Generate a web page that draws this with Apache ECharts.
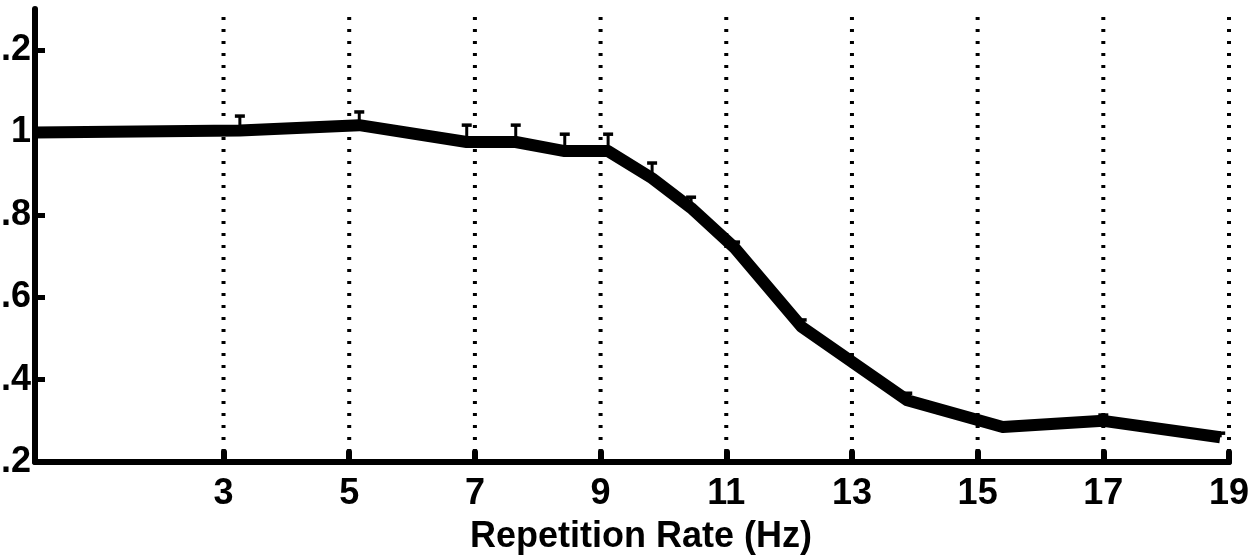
<!DOCTYPE html>
<html>
<head>
<meta charset="utf-8">
<script src="https://cdn.jsdelivr.net/npm/echarts@6/dist/echarts.min.js"></script>
<style>
  html, body { margin: 0; padding: 0; background: #fff; }
  #chart { width: 1255px; height: 556px; }
</style>
</head>
<body>
<div id="chart"></div>
<script>
// Normalised response versus stimulus repetition rate
const rateHz   = [0, 3.26, 5.16, 6.87, 7.65, 8.43, 9.12, 9.82, 10.44, 11.14, 12.2, 13.88, 15.4, 17.0, 18.86];
const response = [1.0, 1.005, 1.018, 0.977, 0.977, 0.955, 0.955, 0.889, 0.817, 0.719, 0.528, 0.35, 0.285, 0.30, 0.26];
const upperErr = [1.0, 1.04, 1.05, 1.018, 1.018, 0.996, 0.996, 0.926, 0.843, 0.734, 0.545, 0.367, 0.295, 0.314, 0.27];
const xTicks = [3, 5, 7, 9, 11, 13, 15, 17, 19];
const yTicks = [0.2, 0.4, 0.6, 0.8, 1.0, 1.2];
const xRange = [0, 19];
const yRange = [0.2, 1.3];

const FONT = "'Liberation Sans', Arial, Helvetica, sans-serif";
const chart = echarts.init(document.getElementById('chart'), null, { renderer: 'canvas' });

const lineData = rateHz.map((x, i) => [x, response[i]]);
const errData = rateHz.map((x, i) => [x, response[i], upperErr[i]]);
const gridData = xTicks.map(x => [x]);

chart.setOption({
  animation: false,
  backgroundColor: '#fff',
  grid: { left: 35, right: 26, top: 9, bottom: 94, containLabel: false, outerBoundsMode: 'none' },
  xAxis: {
    type: 'value',
    min: xRange[0], max: xRange[1],
    interval: 1,
    name: 'Repetition Rate (Hz)',
    nameLocation: 'middle',
    nameGap: 57,
    nameTextStyle: { color: '#000', fontSize: 36, fontWeight: 'bold', fontFamily: FONT, padding: [0, 0, 0, 18] },
    axisLine: { show: true, onZero: false, lineStyle: { color: '#000', width: 6, cap: 'round' } },
    axisTick: { show: true, inside: true, length: 10, customValues: xTicks, lineStyle: { color: '#000', width: 6, cap: 'round' } },
    axisLabel: { show: true, customValues: xTicks, margin: 14, color: '#000', fontSize: 36, fontWeight: 'bold', fontFamily: FONT },
    splitLine: { show: false }
  },
  yAxis: {
    type: 'value',
    min: yRange[0], max: yRange[1],
    interval: 0.2,
    axisLine: { show: true, onZero: false, lineStyle: { color: '#000', width: 6, cap: 'round' } },
    axisTick: { show: true, inside: true, length: 10, customValues: yTicks, lineStyle: { color: '#000', width: 5 } },
    axisLabel: {
      show: true, customValues: yTicks, margin: 4, color: '#000', fontSize: 36, fontWeight: 'bold', fontFamily: FONT,
      formatter: v => String(Math.round(v * 10) / 10)
    },
    splitLine: { show: false }
  },
  series: [
    {
      // dotted vertical guides at each labelled rate
      type: 'custom',
      z: 1,
      silent: true,
      data: gridData,
      renderItem: (params, api) => {
        const x = api.value(0);
        const top = api.coord([x, yRange[1]]);
        const bot = api.coord([x, yRange[0]]);
        return {
          type: 'line',
          shape: { x1: top[0], y1: top[1] + 8, x2: bot[0], y2: bot[1] },
          style: { stroke: '#000', lineWidth: 4, lineDash: [3, 9], lineCap: 'butt' }
        };
      }
    },
    {
      type: 'line',
      z: 3,
      data: lineData,
      showSymbol: false,
      symbol: 'none',
      lineStyle: { color: '#000', width: 12, join: 'round' }
    },
    {
      // upper error bars
      type: 'custom',
      z: 4,
      silent: true,
      data: errData,
      renderItem: (params, api) => {
        const x = api.value(0);
        const y = api.value(1);
        const hi = api.value(2);
        if (hi <= y) return null;
        const p0 = api.coord([x, y]);
        const p1 = api.coord([x, hi]);
        return {
          type: 'group',
          children: [
            { type: 'line', shape: { x1: p0[0], y1: p0[1], x2: p1[0], y2: p1[1] }, style: { stroke: '#000', lineWidth: 3 } },
            { type: 'line', shape: { x1: p1[0] - 5, y1: p1[1], x2: p1[0] + 5, y2: p1[1] }, style: { stroke: '#000', lineWidth: 3.5 } }
          ]
        };
      }
    }
  ]
});
</script>
</body>
</html>
